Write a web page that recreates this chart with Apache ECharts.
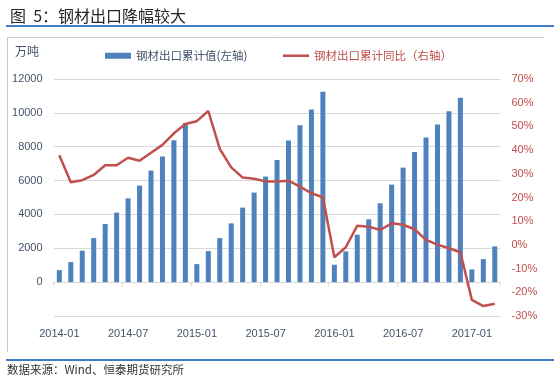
<!DOCTYPE html>
<html>
<head>
<meta charset="utf-8">
<script src="https://cdn.jsdelivr.net/npm/echarts@6/dist/echarts.min.js"></script>
<style>
html,body{margin:0;padding:0;background:#fff;}
#chart{width:558px;height:379px;}
</style>
</head>
<body>
<div id="chart"></div>
<script>
var months = ['2014-01','2014-02','2014-03','2014-04','2014-05','2014-06','2014-07','2014-08','2014-09','2014-10','2014-11','2014-12',
  '2015-01','2015-02','2015-03','2015-04','2015-05','2015-06','2015-07','2015-08','2015-09','2015-10','2015-11','2015-12',
  '2016-01','2016-02','2016-03','2016-04','2016-05','2016-06','2016-07','2016-08','2016-09','2016-10','2016-11','2016-12',
  '2017-01','2017-02','2017-03'];
var exportCum = [710,1183,1858,2604,3432,4106,4953,5704,6591,7420,8384,9408,
  1065,1834,2604,3473,4402,5290,6236,7219,8367,9263,10200,11243,
  1028,1817,2802,3710,4657,5761,6767,7693,8543,9312,10100,10888,
  751,1361,2112];
var exportYoY = [37.8,26.4,27.3,29.5,33.6,33.6,36.8,35.5,38.9,42.2,47.1,51.0,
  52.2,56.5,40.5,32.7,28.4,27.9,26.8,26.8,27.1,24.6,21.8,20.1,
  -5.2,-1.0,8.1,7.7,6.3,9.1,8.5,6.6,2.1,0.1,-1.4,-3.1,
  -23.2,-25.8,-24.8];
var leftTicks = {min:-2000, max:12000, interval:2000};
var rightTicks = {min:-30, max:70, interval:10};
var nameBar = '钢材出口累计值(左轴)';
var nameLine = '钢材出口累计同比（右轴）';

var numFont = "'Liberation Sans', 'Noto Sans CJK SC', sans-serif";
var cjkFont = "'Noto Sans CJK SC', sans-serif";
var chart = echarts.init(document.getElementById('chart'), null, {renderer:'canvas'});
chart.setOption({
  animation:false,
  title:{text:'图  5：钢材出口降幅较大', left:5, top:3,
    textStyle:{fontFamily:cjkFont, fontSize:16, fontWeight:'normal', color:'#262626'}},
  legend:[
    {data:[{name:nameBar, icon:'rect'}], left:100, top:45, itemWidth:26, itemHeight:6,
      textStyle:{fontFamily:cjkFont, fontSize:11.5, color:'#44546A'}},
    {data:[{name:nameLine, icon:'rect'}], left:278, top:45, itemWidth:26, itemHeight:2.5,
      itemStyle:{color:'#C0504D'},
      textStyle:{fontFamily:cjkFont, fontSize:11.5, color:'#C0504D'}}
  ],
  grid:{left:53.6, right:57.5, top:79, bottom:63, containLabel:false},
  xAxis:[
    {type:'category', data:months, position:'bottom',
      axisLine:{show:false, onZero:false}, axisTick:{show:false},
      axisLabel:{interval:5, margin:12, fontFamily:numFont, fontSize:11, color:'#44546A'}},
    {type:'category', data:months, position:'top',
      axisLine:{show:true, onZero:true, onZeroAxisIndex:0, lineStyle:{color:'#D9D9D9', width:1}},
      axisTick:{show:true, interval:5, inside:true, length:4, lineStyle:{color:'#D9D9D9'}},
      axisLabel:{show:false}}
  ],
  yAxis:[
    {type:'value', min:leftTicks.min, max:leftTicks.max, interval:leftTicks.interval, position:'left',
      axisLine:{show:false}, axisTick:{show:false},
      splitLine:{lineStyle:{color:'#D9D9D9', width:1}},
      axisLabel:{margin:11, fontFamily:numFont, fontSize:11, color:'#44546A',
        formatter:function(v){return v < 0 ? '' : String(v);}}},
    {type:'value', min:rightTicks.min, max:rightTicks.max, interval:rightTicks.interval, position:'right',
      axisLine:{show:false}, axisTick:{show:false}, splitLine:{show:false},
      axisLabel:{margin:11, fontFamily:numFont, fontSize:11, color:'#C0504D', formatter:'{value}%'}}
  ],
  series:[
    {name:nameBar, type:'bar', data:exportCum, xAxisIndex:0, yAxisIndex:0, barWidth:5,
      itemStyle:{color:'#4F81BD'}},
    {name:nameLine, type:'line', data:exportYoY, xAxisIndex:0, yAxisIndex:1, symbol:'none',
      lineStyle:{color:'#C0504D', width:2.5}, itemStyle:{color:'#C0504D'}, z:5}
  ],
  graphic:[
    {type:'line', shape:{x1:6, y1:26, x2:554, y2:26}, style:{stroke:'#3D7CC9', lineWidth:2}},
    {type:'line', shape:{x1:7, y1:37.5, x2:544, y2:37.5}, style:{stroke:'#C8C8C8', lineWidth:1}},
    {type:'line', shape:{x1:7.5, y1:37, x2:7.5, y2:352}, style:{stroke:'#C8C8C8', lineWidth:1}},
    {type:'line', shape:{x1:6, y1:360, x2:554, y2:360}, style:{stroke:'#3D7CC9', lineWidth:2}},
    {type:'text', left:15, top:45, style:{text:'万吨', fontFamily:cjkFont, fontSize:12, fill:'#44546A'}},
    {type:'text', left:7, top:364, style:{text:'数据来源：Wind、恒泰期货研究所', fontFamily:cjkFont, fontSize:11.5, fill:'#333333'}}
  ]
});
</script>
</body>
</html>
